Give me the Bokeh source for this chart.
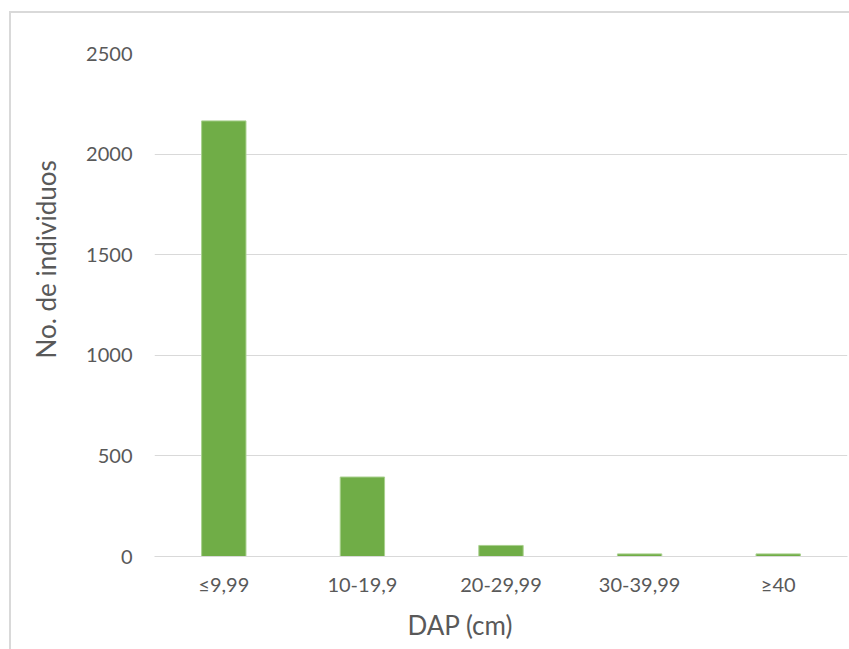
from bokeh.plotting import figure
from bokeh.models import FixedTicker, Range1d, Title
from bokeh.embed import file_html
from bokeh.resources import INLINE

categories = ["≤9,99", "10-19,9", "20-29,99", "30-39,99", "≥40"]
counts = [2165, 395, 55, 13, 13]
y_ticks = [0, 500, 1000, 1500, 2000, 2500]

FONT = "Lato"
TXT = "#595959"
GRID = "#d9d9d9"

p = figure(x_range=categories, width=849, height=649,
           output_backend="svg", toolbar_location=None,
           min_border_left=154, min_border_right=2,
           min_border_top=53, min_border_bottom=93)
p.y_range = Range1d(0, 2500)

p.vbar(x=categories, top=counts, width=0.32, fill_color="#70ad47",
       line_color="#a9d08e", line_width=1)

p.outline_line_color = None
p.background_fill_color = "white"
p.border_fill_color = None
p.styles = {
    "background-color": "white",
    "background-image": "linear-gradient(#d9d9d9, #d9d9d9), linear-gradient(#d9d9d9, #d9d9d9)",
    "background-size": "2px 100%, 100% 2px",
    "background-position": "9px 11px, 9px 11px",
    "background-repeat": "no-repeat",
}

p.xgrid.grid_line_color = None
p.ygrid.grid_line_color = GRID
p.ygrid.grid_line_width = 1

p.yaxis.ticker = FixedTicker(ticks=y_ticks)
for ax in (p.xaxis, p.yaxis):
    ax.axis_line_color = None
    ax.major_tick_line_color = None
    ax.minor_tick_line_color = None
    ax.major_label_text_font = FONT
    ax.major_label_text_color = TXT
    ax.major_label_text_font_size = "20px"

p.xaxis.axis_line_color = GRID
p.xaxis.major_label_standoff = 9
p.yaxis.major_label_standoff = 16

x_title = Title(text="DAP (cm)", align="left", offset=253, standoff=17,
                text_font=FONT, text_font_size="26px", text_color=TXT,
                text_font_style="normal")
p.add_layout(x_title, "below")

y_title = Title(text="No. de individuos", align="left", offset=198, standoff=43,
                text_font=FONT, text_font_size="26px", text_color=TXT,
                text_font_style="normal")
p.add_layout(y_title, "left")

open("out.html", "w").write(file_html(p, INLINE))
